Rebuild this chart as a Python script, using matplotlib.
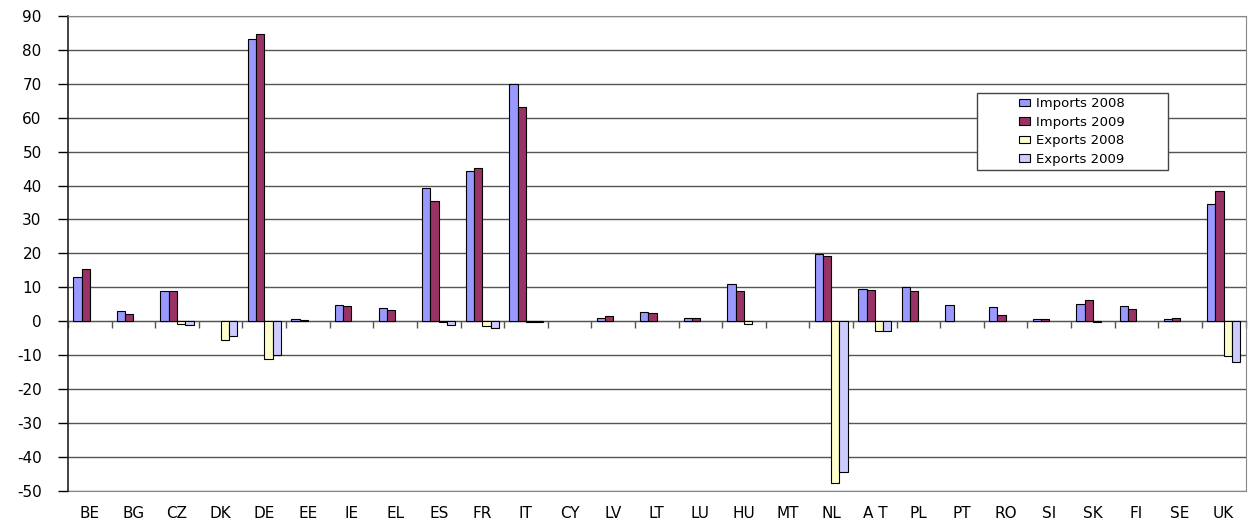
import matplotlib
matplotlib.use("Agg")
import matplotlib.pyplot as plt
from matplotlib.patches import Rectangle, Patch
import numpy as np

plt.rcParams["font.family"] = ["DejaVu Sans"]
plt.rcParams["axes.unicode_minus"] = False

COLOR_IMP08 = "#9999FF"
COLOR_IMP09 = "#993366"
COLOR_EXP08 = "#FFFFCC"
COLOR_EXP09 = "#CCCCFF"
COLOR_GRID = "#555555"

countries = ["BE", "BG", "CZ", "DK", "DE", "EE", "IE", "EL", "ES", "FR", "IT", "CY", "LV",
             "LT", "LU", "HU", "MT", "NL", "A T", "PL", "PT", "RO", "SI", "SK", "FI", "SE", "UK"]
imports_2008 = [13.0, 3.0, 8.8, 0.0, 83.2, 0.8, 4.7, 3.8, 39.2, 44.3, 70.0, 0.0, 1.0,
                2.6, 1.0, 11.1, 0.0, 19.7, 9.5, 10.1, 4.7, 4.1, 0.8, 5.1, 4.4, 0.8, 34.7]
imports_2009 = [15.5, 2.1, 8.8, 0.0, 84.8, 0.5, 4.4, 3.2, 35.3, 45.2, 63.0, 0.0, 1.6,
                2.3, 1.0, 8.8, 0.0, 19.3, 9.2, 9.0, 0.0, 1.8, 0.8, 6.2, 3.7, 1.0, 38.5]
exports_2008 = [0.0, 0.0, -0.8, -5.5, -11.2, 0.0, 0.0, 0.0, -0.2, -1.3, -0.2, 0.0, 0.0,
                0.0, 0.0, -0.8, 0.0, -47.8, -2.8, 0.0, 0.0, 0.0, 0.0, -0.2, 0.0, 0.0, -10.3]
exports_2009 = [0.0, 0.0, -1.1, -4.2, -10.0, 0.0, 0.0, 0.0, -1.1, -2.0, -0.2, 0.0, 0.0,
                0.0, 0.0, 0.0, 0.0, -44.4, -2.8, 0.0, 0.0, 0.0, 0.0, 0.0, 0.0, 0.0, -12.0]

series = [
    ("Imports 2008", imports_2008, COLOR_IMP08),
    ("Imports 2009", imports_2009, COLOR_IMP09),
    ("Exports 2008", exports_2008, COLOR_EXP08),
    ("Exports 2009", exports_2009, COLOR_EXP09),
]

fig = plt.figure(figsize=(12.48, 5.29), dpi=100)
ax = fig.add_axes([0.0545, 0.072, 0.9435, 0.898])

x = np.arange(len(countries))
width = 0.19
handles = []
for i, (name, vals, color) in enumerate(series):
    bars = ax.bar(x + (i - 1.5) * width, vals, width, color=color,
                  edgecolor="black", linewidth=0.8, zorder=3)
    # empty values: no outline (Excel draws nothing there)
    for b, v in zip(bars, vals):
        if v == 0:
            b.set_linewidth(0)
    handles.append(Patch(facecolor=color, edgecolor="black", linewidth=0.8, label=name))

ax.set_xlim(-0.5, len(countries) - 0.5)
ax.set_ylim(-50, 90)
ax.set_yticks(range(-50, 91, 10))
ax.grid(axis="y", color=COLOR_GRID, linewidth=1, zorder=0)
ax.tick_params(axis="y", direction="out", length=7, width=1, labelsize=11, pad=12)

# category axis crosses at zero, tick marks between categories
ax.spines["bottom"].set_position(("data", 0))
ax.spines["bottom"].set_color(COLOR_GRID)
ax.set_xticks(x)
ax.set_xticklabels([])
ax.tick_params(axis="x", which="major", length=0)
ax.set_xticks(np.arange(len(countries) + 1) - 0.5, minor=True)
ax.tick_params(axis="x", which="minor", direction="out", length=5, width=1, color=COLOR_GRID)

sec = ax.secondary_xaxis(0)
sec.set_xticks(x)
sec.set_xticklabels(countries, fontsize=11)
sec.tick_params(length=0, pad=11)
sec.spines["bottom"].set_color("#888888")

ax.spines["left"].set_color("#222222")
ax.spines["left"].set_linewidth(1.2)
ax.spines["top"].set_color("#888888")
ax.spines["right"].set_color("#888888")

# legend box (Excel-style wide frame, entries centred inside)
ax.add_patch(Rectangle((0.7716, 0.676), 0.1622, 0.162, transform=ax.transAxes,
                       facecolor="white", edgecolor="#444444", linewidth=1, zorder=4))
leg = ax.legend(handles=handles, loc="center", bbox_to_anchor=(0.8527, 0.757), fontsize=9.5,
                frameon=False, handlelength=0.85, handleheight=0.5,
                handletextpad=0.45, labelspacing=0.42, borderpad=0, borderaxespad=0)
leg.set_zorder(5)

fig.savefig("out.png", facecolor="white")
plt.close(fig)
